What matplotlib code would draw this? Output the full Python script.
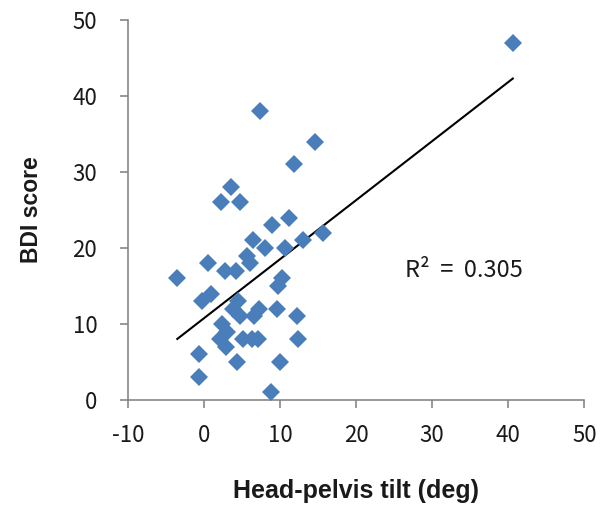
import numpy as np
import matplotlib
matplotlib.use("Agg")
import matplotlib.pyplot as plt

# head-pelvis tilt (deg) vs BDI score
tilt = [40.6, 7.4, 14.6, 11.8, 3.6, 2.2, 4.7, 11.2, 9.0, 15.7, 13.0,
        6.4, 8.0, 10.7, 5.7, 6.0, 0.5, 2.8, 4.2, -3.5, 10.3, 9.8,
        0.9, -0.3, 4.5, 3.8, 7.2, 9.6, 4.7, 6.6, 12.3, 2.4, 3.1,
        2.1, 5.1, 6.3, 7.1, 12.4, 2.9, -0.6, 4.4, 10.0, -0.7, 8.8]
bdi = [47, 38, 34, 31, 28, 26, 26, 24, 23, 22, 21,
       21, 20, 20, 19, 18, 18, 17, 17, 16, 16, 15,
       14, 13, 13, 12, 12, 12, 11, 11, 11, 10, 9,
       8, 8, 8, 8, 8, 7, 6, 5, 5, 3, 1]
x_ticks = [-10, 0, 10, 20, 30, 40, 50]
y_ticks = [0, 10, 20, 30, 40, 50]
r2_label = "R²  =  0.305"

BLUE = "#4a7ebb"
GRAY = "#868686"
TXT = "#1a1a1a"

plt.rcParams["axes.unicode_minus"] = False

x = np.array(tilt)
y = np.array(bdi)
slope, icpt = np.polyfit(x, y, 1)

fig = plt.figure(figsize=(6.03, 5.07), dpi=100)
ax = fig.add_axes([0.212, 0.211, 0.757, 0.7495])

ax.plot(x, y, linestyle="none", marker="D", markersize=9.5,
        color=BLUE, markeredgewidth=0, zorder=3)
xl = np.array([x.min(), x.max()])
ax.plot(xl, slope * xl + icpt, color="black", linewidth=1.5, zorder=2)

ax.set_xlim(-10, 50)
ax.set_ylim(0, 50)
ax.set_xticks(x_ticks)
ax.set_yticks(y_ticks)

for side in ("top", "right"):
    ax.spines[side].set_visible(False)
for side in ("left", "bottom"):
    ax.spines[side].set_color(GRAY)
    ax.spines[side].set_linewidth(1.2)
ax.tick_params(direction="out", length=6, width=1.2, color=GRAY,
               labelsize=16)
ax.tick_params(axis="y", pad=16)
ax.tick_params(axis="x", pad=11)
for lab in ax.get_xticklabels() + ax.get_yticklabels():
    lab.set_family("Noto Sans CJK KR")
    lab.set_color(TXT)

ax.set_xlabel("Head-pelvis tilt (deg)", fontsize=18, fontweight="bold",
              family="Liberation Sans", labelpad=23, color=TXT)
ax.set_ylabel("BDI score", fontsize=16.5, fontweight="bold",
              family="Liberation Sans", labelpad=21, color=TXT)

ax.text(26.4, 17, r2_label, fontsize=17, va="center",
        family=["Noto Sans CJK KR", "DejaVu Sans"], color=TXT)

fig.savefig("out.png", dpi=100, facecolor="white")
